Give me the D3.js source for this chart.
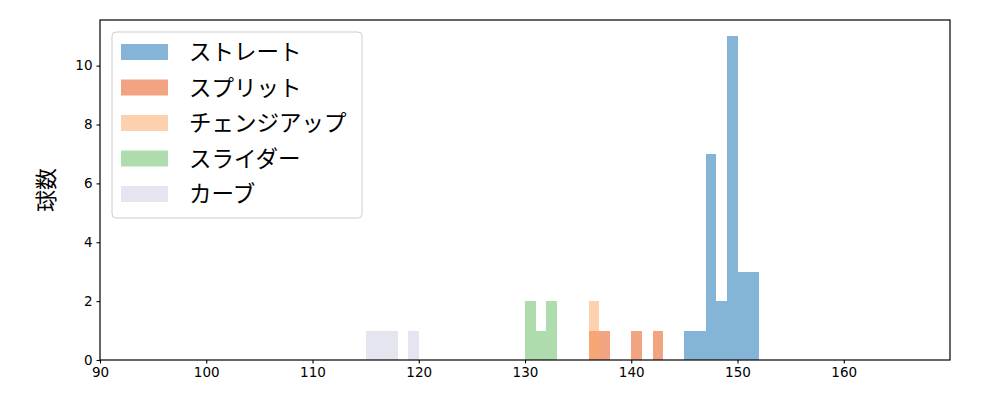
<!DOCTYPE html>
<html>
<head>
<meta charset="utf-8">
<script src="https://cdn.jsdelivr.net/npm/d3@7"></script>
<style>
  body { margin: 0; background: #fff; }
  .axis text { font-family: "DejaVu Sans", sans-serif; font-size: 13.5px; fill: #000; }
  .axis path, .axis line { stroke: #000; }
</style>
</head>
<body>
<div id="chart"></div>
<script>
// histogram bins: [bin start, count], bin width 1 km/h
var pitchTypes = ['ストレート', 'スプリット', 'チェンジアップ', 'スライダー', 'カーブ'];
var straight = [[145, 1], [146, 1], [147, 7], [148, 2], [149, 11], [150, 3], [151, 3]];
var split = [[136, 1], [137, 1], [140, 1], [142, 1]];
var changeup = [[136, 2]];
var slider = [[130, 2], [131, 1], [132, 2]];
var curve = [[115, 1], [116, 1], [117, 1], [119, 1]];
var xTicks = [90, 100, 110, 120, 130, 140, 150, 160];
var yTicks = [0, 2, 4, 6, 8, 10];

var colors = ['#1f77b4', '#e6581b', '#fcac69', '#6cc06a', '#cfcfe3'];
var series = [straight, split, changeup, slider, curve];

// set the dimensions and margins of the graph
var margin = { top: 20, right: 50, bottom: 40, left: 100 };
var width = 1000 - margin.left - margin.right;
var height = 400 - margin.top - margin.bottom;

var x = d3.scaleLinear().domain([90, 170]).range([0, width]);
var y = d3.scaleLinear().domain([0, 11.55]).range([height, 0]);

var svg = d3.select('#chart').append('svg')
  .attr('width', 1000)
  .attr('height', 400)
  .append('g')
  .attr('transform', 'translate(' + margin.left + ',' + margin.top + ')');

// bars, drawn in legend order with transparency
series.forEach(function (data, i) {
  svg.append('g')
    .selectAll('rect')
    .data(data)
    .enter().append('rect')
    .attr('x', function (d) { return x(d[0]); })
    .attr('width', function (d) { return x(d[0] + 1) - x(d[0]); })
    .attr('y', function (d) { return y(d[1]); })
    .attr('height', function (d) { return y(0) - y(d[1]); })
    .attr('shape-rendering', 'crispEdges')
    .style('fill', colors[i])
    .style('fill-opacity', 0.55);
});

// axes
svg.append('g')
  .attr('class', 'axis')
  .attr('transform', 'translate(0,' + height + ')')
  .call(d3.axisBottom(x).tickValues(xTicks).tickSize(3.5).tickPadding(4).tickFormat(d3.format('d')))
  .call(function (g) { g.select('.domain').remove(); });

svg.append('g')
  .attr('class', 'axis')
  .call(d3.axisLeft(y).tickValues(yTicks).tickSize(3.5).tickPadding(4).tickFormat(d3.format('d')))
  .call(function (g) { g.select('.domain').remove(); });

svg.selectAll('.axis line').style('stroke-width', 1.1);

// frame
svg.append('rect')
  .attr('width', width)
  .attr('height', height)
  .style('fill', 'none')
  .style('stroke', '#000')
  .style('stroke-width', 1.2);

// y label
svg.append('text')
  .attr('transform', 'translate(' + (-46) + ',' + (height / 2) + ') rotate(-90)')
  .style('text-anchor', 'middle')
  .style('font-family', '"Noto Sans CJK JP", sans-serif')
  .style('font-size', '22px')
  .text('球数');

// legend
var legend = svg.append('g').attr('transform', 'translate(12,12)');
legend.append('rect')
  .attr('width', 250)
  .attr('height', 186)
  .attr('rx', 4)
  .style('fill', '#fff')
  .style('fill-opacity', 0.8)
  .style('stroke', '#ccc')
  .style('stroke-width', 1);

pitchTypes.forEach(function (name, i) {
  var row = legend.append('g').attr('transform', 'translate(0,' + (20 + i * 35.5) + ')');
  row.append('rect')
    .attr('x', 9)
    .attr('y', -8)
    .attr('width', 47)
    .attr('height', 16)
    .style('fill', colors[i])
    .style('fill-opacity', 0.55);
  row.append('text')
    .attr('x', 77)
    .attr('y', 0)
    .attr('dy', '0.36em')
    .style('font-family', '"Noto Sans CJK JP", sans-serif')
    .style('font-size', '22.5px')
    .text(name);
});
</script>
</body>
</html>
